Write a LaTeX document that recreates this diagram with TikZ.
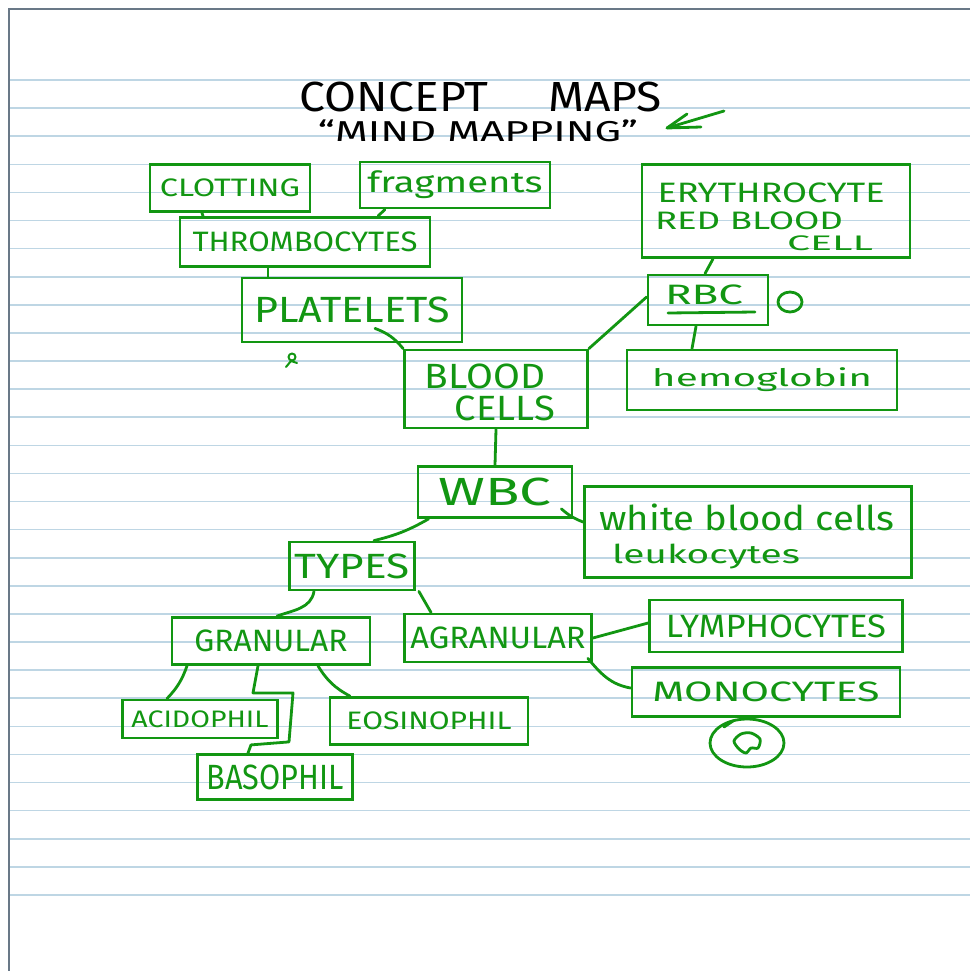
\documentclass[tikz,border=0pt]{standalone}
\usepackage{fontspec}
\setmainfont{Fira Sans}
\usepackage{graphicx}
\definecolor{ink}{RGB}{18,150,18}
\definecolor{ruling}{RGB}{190,214,228}
\definecolor{edge}{RGB}{105,120,135}
\newcommand{\hw}[3]{\resizebox*{#1pt}{#2pt}{#3}}
\tikzset{
  box/.style={draw=ink, line width=2.8pt, inner sep=0pt, text=ink},
  txt/.style={inner sep=0pt, text=ink},
  link/.style={draw=ink, line width=2.8pt, line cap=round, line join=round},
  ttl/.style={inner sep=0pt, text=black}
}
\begin{document}
\begin{tikzpicture}[x=1pt,y=-1pt]
\useasboundingbox (0,0) rectangle (970,971);
\fill[white] (0,0) rectangle (970,971);
% ruled paper
\foreach \k in {0,...,29}{
  \draw[ruling, line width=1.6pt] (10,{80+28.1*\k}) -- (970,{80+28.1*\k});
}
\draw[edge, line width=2.8pt] (9,971) -- (9,9) -- (970,9);

% title
\node[ttl] (t1) at (481,97) {\hw{362}{30}{CONCEPT\hspace{1.3em}MAPS}};
\node[ttl] (t2) at (478,131) {\hw{320}{22}{“MIND MAPPING”}};
\coordinate (arrTail) at (724,111);
\coordinate (arrTip) at (667,128);
\draw[link] (arrTail) -- (arrTip) -- ++(34,-1);
\draw[link] (arrTip) -- ++(20,-14);

% boxes
\node[box, minimum width=160pt, minimum height=47pt] (clot) at (230,188) {\hw{140}{18}{CLOTTING}};
\node[box, minimum width=190pt, minimum height=46pt] (frag) at (455,185) {\hw{175}{28}{fragments}};
\node[box, minimum width=250pt, minimum height=49pt] (thromb) at (305,242) {\hw{225}{20}{THROMBOCYTES}};
\node[box, minimum width=220pt, minimum height=64pt] (plate) at (352,310) {\hw{195}{26}{PLATELETS}};

\node[box, minimum width=183pt, minimum height=78pt] (blood) at (496,389) {};
\node[txt] (bloodA) at (485,376) {\hw{120}{25}{BLOOD}};
\node[txt] (bloodB) at (505,408) {\hw{100}{25}{CELLS}};

\node[box, minimum width=268pt, minimum height=93pt] (ery) at (776,211) {};
\node[txt] (eryA) at (771,193) {\hw{227}{20}{ERYTHROCYTE}};
\node[txt] (eryB) at (749,221) {\hw{188}{18}{RED BLOOD}};
\node[txt] (eryC) at (830,243) {\hw{86}{15}{CELL}};

\node[box, minimum width=120pt, minimum height=50pt] (rbc) at (708,300) {};
\node[txt] (rbcT) at (704,295) {\hw{78}{20}{RBC}};
\draw[link] ([shift={(-40,13)}]rbc.center) -- ([shift={(47,12)}]rbc.center);

\node[box, minimum width=270pt, minimum height=60pt] (hemo) at (762,380) {\hw{220}{24}{hemoglobin}};

\node[box, minimum width=154pt, minimum height=51pt] (wbc) at (495,492) {\hw{113}{28}{WBC}};

\node[box, minimum width=327pt, minimum height=91pt] (white) at (748,532) {};
\node[txt] (whiteA) at (747,517) {\hw{295}{27}{white blood cells}};
\node[txt] (whiteB) at (706,557) {\hw{188}{25}{leukocytes}};

\node[box, minimum width=125pt, minimum height=48pt] (types) at (352,566) {\hw{115}{25}{TYPES}};
\node[box, minimum width=198pt, minimum height=47pt] (gran) at (271,641) {\hw{153}{22}{GRANULAR}};
\node[box, minimum width=187pt, minimum height=48pt] (agran) at (498,638) {\hw{175}{22}{AGRANULAR}};
\node[box, minimum width=253pt, minimum height=52pt] (lymph) at (776,626) {\hw{220}{23}{LYMPHOCYTES}};
\node[box, minimum width=268pt, minimum height=49pt] (mono) at (766,692) {\hw{227}{20}{MONOCYTES}};
\node[box, minimum width=155pt, minimum height=38pt] (acid) at (200,719) {\hw{137}{17}{ACIDOPHIL}};
\node[box, minimum width=198pt, minimum height=47pt] (eosin) at (429,721) {\hw{165}{18}{EOSINOPHIL}};
\node[box, minimum width=155pt, minimum height=45pt] (baso) at (275,777) {\hw{137}{25}{BASOPHIL}};

% connectors
\draw[link] ([xshift=-28pt]clot.south) -- ([xshift=-102pt]thromb.north);
\draw[link] ([xshift=-70pt]frag.south) -- ([xshift=73pt]thromb.north);
\draw[link] ([xshift=-37pt]thromb.south) -- ([xshift=-84pt]plate.north);
\draw[link] ([shift={(23,-15)}]plate.south) to[bend left=15] (blood.north west);
\draw[link] ([yshift=3pt]rbc.west) -- (blood.north east);
\draw[link] ([xshift=-63pt]ery.south) -- ([xshift=-3pt]rbc.north);
\draw[link] ([xshift=-12pt]rbc.south) -- ([xshift=-70pt]hemo.north);
\draw[link] (blood.south) -- (wbc.north);
\draw[link] ([shift={(-12,-10)}]wbc.south east) to[bend right=10] ([yshift=10pt]white.west);
\draw[link] ([xshift=12pt]wbc.south west) to[bend left=8] ([xshift=22pt]types.north);
\draw[link] ([xshift=-38pt]types.south) to[out=-100,in=20] ([xshift=6pt]gran.north);
\draw[link] ([xshift=3pt]types.south east) -- ([xshift=28pt]agran.north west);
\draw[link] ([xshift=-84pt]gran.south) to[bend left=12] ([xshift=-33pt]acid.north);
\draw[link] ([xshift=-13pt]gran.south) -- ++(-5,27) -- ++(40,0) -- ++(-4,49) -- ++(-38,3) -- ([xshift=-27pt]baso.north);
\draw[link] ([xshift=47pt]gran.south) to[bend right=15] ([xshift=-79pt]eosin.north);
\draw[link] (agran.east) -- ([yshift=3pt]lymph.west);
\draw[link] ([shift={(-5,-5)}]agran.south east) to[out=-50,in=170] ([yshift=4pt]mono.west);

% doodles
\draw[link] (790,302) ellipse [x radius=12pt, y radius=10pt];
\draw[link, line width=2pt] (292,357) circle [radius=3.5pt];
\draw[link, line width=2pt] (286,367) -- (291,361) -- (297,363);
\draw[link] (747,743) ellipse [x radius=37pt, y radius=24pt];
\draw[link] (724,727) -- (733,721);
\draw[link] plot[smooth cycle] coordinates {(734,741) (741,734) (751,733) (760,739) (758,748) (751,748) (746,753) (739,749)};
\end{tikzpicture}
\end{document}
